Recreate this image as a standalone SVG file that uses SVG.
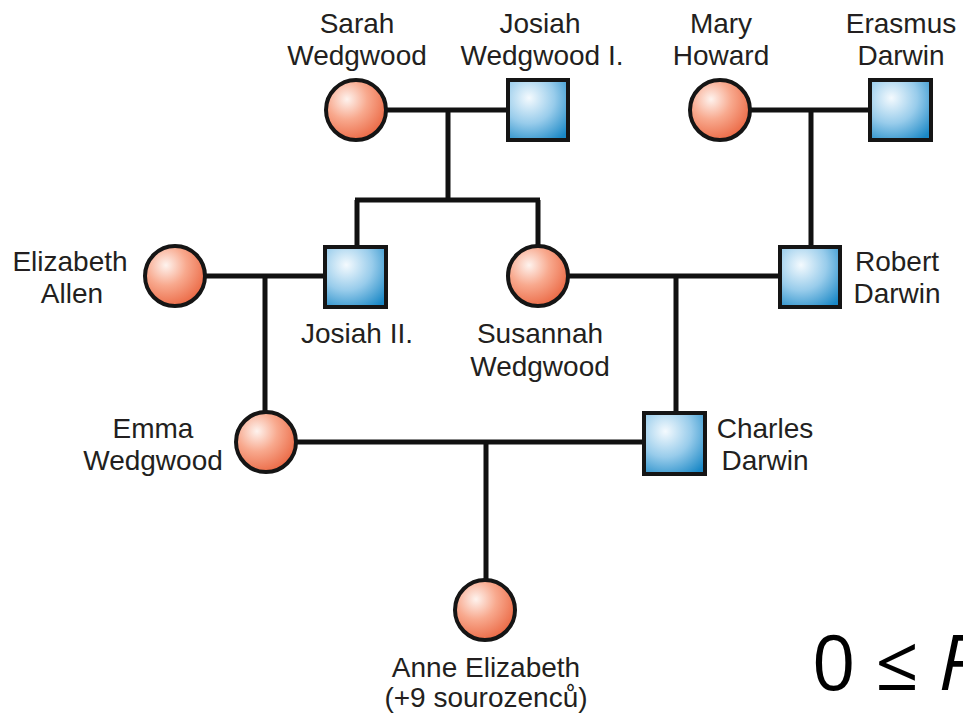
<svg xmlns="http://www.w3.org/2000/svg" width="963" height="715" viewBox="0 0 963 715">
<defs>
<radialGradient id="gf" cx="0.35" cy="0.32" r="0.75">
<stop offset="0" stop-color="#fef3ee"/>
<stop offset="0.45" stop-color="#f8a98e"/>
<stop offset="1" stop-color="#ea643f"/>
</radialGradient>
<radialGradient id="gm" cx="0.35" cy="0.3" r="0.85">
<stop offset="0" stop-color="#f4fafe"/>
<stop offset="0.5" stop-color="#98cceb"/>
<stop offset="1" stop-color="#1a88c6"/>
</radialGradient>
<style>
.f{fill:url(#gf);stroke:#151515;stroke-width:4}
.m{fill:url(#gm);stroke:#151515;stroke-width:4}
.l{fill:none;stroke:#111;stroke-width:5}
text{font-family:"Liberation Sans",Arial,sans-serif;font-size:28px;fill:#231f20}
.c{text-anchor:middle}
</style>
</defs>
<rect width="963" height="715" fill="#ffffff"/>
<g id="connectors">
<path class="l" d="M386 110H508M448 110V200M355 200H540M357 200V247M538 200V246"/>
<path class="l" d="M750 110H870M811 110V247"/>
<path class="l" d="M205 276H325M265 276V412"/>
<path class="l" d="M568 276H780M676 276V413"/>
<path class="l" d="M296 442H644M486 442V580"/>
</g>
<g id="sarah"><circle class="f" cx="356" cy="110" r="30"/><text class="c" x="357" y="33">Sarah</text><text class="c" x="357" y="65">Wedgwood</text></g>
<g id="josiah1"><rect class="m" x="508" y="80" width="60" height="60"/><text class="c" x="540" y="33">Josiah</text><text class="c" x="542" y="65">Wedgwood I.</text></g>
<g id="mary"><circle class="f" cx="720" cy="110" r="30"/><text class="c" x="721" y="33">Mary</text><text class="c" x="721" y="65">Howard</text></g>
<g id="erasmus"><rect class="m" x="870" y="80" width="61" height="60"/><text class="c" x="901" y="33">Erasmus</text><text class="c" x="901" y="65">Darwin</text></g>
<g id="elizabeth"><circle class="f" cx="175" cy="276" r="30"/><text class="c" x="70" y="271">Elizabeth</text><text class="c" x="72" y="303">Allen</text></g>
<g id="josiah2"><rect class="m" x="325" y="247" width="61" height="60"/><text class="c" x="357" y="343">Josiah II.</text></g>
<g id="susannah"><circle class="f" cx="538" cy="276" r="30"/><text class="c" x="540" y="343">Susannah</text><text class="c" x="540" y="376">Wedgwood</text></g>
<g id="robert"><rect class="m" x="780" y="247" width="60" height="60"/><text class="c" x="897" y="271">Robert</text><text class="c" x="897" y="303">Darwin</text></g>
<g id="emma"><circle class="f" cx="266" cy="442" r="30"/><text class="c" x="153" y="438">Emma</text><text class="c" x="153" y="470">Wedgwood</text></g>
<g id="charles"><rect class="m" x="644" y="413" width="61" height="61"/><text class="c" x="765" y="438">Charles</text><text class="c" x="765" y="470">Darwin</text></g>
<g id="anne"><circle class="f" cx="485" cy="610" r="30"/><text class="c" x="486" y="677">Anne Elizabeth</text><text class="c" x="486" y="707">(+9 sourozenců)</text></g>
<text x="812" y="690" style="font-family:'Open Sans','Noto Sans',sans-serif;font-size:76px;fill:#000">0 ≤ <tspan font-style="italic">F</tspan></text>
</svg>
